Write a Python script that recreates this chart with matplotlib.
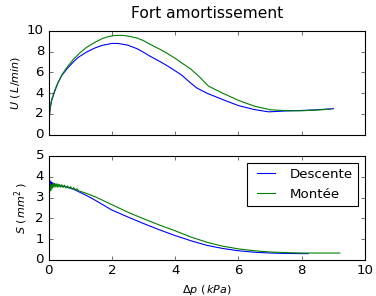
import matplotlib
matplotlib.use("Agg")
import matplotlib.pyplot as plt

plt.style.use('classic')
plt.rcParams['mathtext.fontset'] = 'dejavusans'
plt.rcParams['font.family'] = ['DejaVu Sans']

# Top panel: U (L/min) vs dp (kPa)
u_desc_x = [0, 0.02, 0.05, 0.1, 0.2, 0.3, 0.42, 0.6, 0.8, 0.94, 1.2, 1.47, 1.7, 2.0, 2.2, 2.5, 2.8, 3.0, 3.21,
            3.5, 3.73, 4.0, 4.2, 4.31, 4.5, 4.68, 5.0, 5.5, 6.0, 6.5, 6.95, 7.3, 7.58, 8.0, 8.5, 9.0]
u_desc_y = [0.3, 1.5, 2.5, 3.3, 4.2, 5.0, 5.7, 6.4, 7.05, 7.45, 7.95, 8.35, 8.6, 8.78, 8.78, 8.62, 8.27, 7.93, 7.55,
            7.07, 6.67, 6.15, 5.75, 5.45, 4.95, 4.5, 4.0, 3.38, 2.8, 2.42, 2.2, 2.25, 2.3, 2.33, 2.4, 2.5]
u_mont_x = [0, 0.02, 0.05, 0.1, 0.2, 0.3, 0.42, 0.6, 0.8, 1.0, 1.2, 1.47, 1.7, 1.9, 2.1, 2.31, 2.5, 2.8, 3.0, 3.21,
            3.5, 3.73, 4.0, 4.26, 4.5, 4.79, 5.05, 5.2, 5.5, 6.0, 6.5, 7.0, 7.58, 8.0, 8.5, 8.9]
u_mont_y = [0.3, 1.5, 2.5, 3.4, 4.3, 5.0, 5.75, 6.55, 7.3, 7.9, 8.4, 8.9, 9.25, 9.45, 9.55, 9.56, 9.5, 9.3, 9.05, 8.7,
            8.25, 7.86, 7.35, 6.8, 6.3, 5.5, 4.68, 4.45, 4.0, 3.3, 2.75, 2.4, 2.3, 2.3, 2.38, 2.45]

# Bottom panel: S (mm^2) vs dp (kPa)
s_desc_x = [0, 0.01, 0.02, 0.03, 0.04, 0.05, 0.07, 0.09, 0.1, 0.12, 0.15, 0.18, 0.2, 0.25, 0.3, 0.42, 0.6, 0.8,
            0.94, 1.2, 1.5, 2.0, 2.5, 3.0, 3.5, 4.0, 4.5, 5.0, 5.5, 6.0, 6.5, 7.0, 7.5, 8.2]
s_desc_y = [2.9, 3.9, 3.3, 3.85, 3.45, 3.8, 3.5, 3.75, 3.55, 3.72, 3.58, 3.68, 3.6, 3.62, 3.58, 3.55, 3.5, 3.4,
            3.29, 3.1, 2.85, 2.4, 2.07, 1.75, 1.45, 1.17, 0.92, 0.7, 0.55, 0.44, 0.37, 0.33, 0.31, 0.3]
s_mont_x = [0, 0.01, 0.02, 0.03, 0.04, 0.06, 0.08, 0.1, 0.13, 0.15, 0.18, 0.2, 0.23, 0.25, 0.28, 0.3, 0.33, 0.35,
            0.38, 0.42, 0.46, 0.5, 0.55, 0.6, 0.65, 0.7, 0.75, 0.8, 0.85, 0.9, 0.94, 1.0, 1.2, 1.5, 2.0, 2.5,
            3.0, 3.5, 4.0, 4.5, 5.0, 5.5, 6.0, 6.5, 7.0, 7.5, 8.0, 9.2]
s_mont_y = [1.3, 5.0, 3.0, 3.6, 3.3, 3.65, 3.35, 3.6, 3.45, 3.7, 3.5, 3.68, 3.52, 3.66, 3.5, 3.65, 3.52, 3.63,
            3.5, 3.62, 3.48, 3.6, 3.46, 3.56, 3.44, 3.52, 3.4, 3.48, 3.36, 3.42, 3.33, 3.3, 3.2, 3.02, 2.66, 2.3,
            1.98, 1.68, 1.4, 1.1, 0.85, 0.66, 0.53, 0.44, 0.38, 0.35, 0.33, 0.33]

fig = plt.figure(figsize=(4.7, 3.7), dpi=80)
ax1 = fig.add_axes([0.129, 0.545, 0.842, 0.351])
ax2 = fig.add_axes([0.129, 0.122, 0.842, 0.351])

ax1.plot(u_desc_x, u_desc_y, color='b', lw=1)
ax1.plot(u_mont_x, u_mont_y, color='g', lw=1)
ax1.set_xlim(0, 10)
ax1.set_ylim(0, 10)
ax1.set_xticklabels([])
ax1.set_ylabel(r'$U\ (\,L/min)$', fontsize=10)
ax1.set_title('Fort amortissement', fontsize=14, pad=11.5)

ax2.plot(s_desc_x, s_desc_y, color='b', lw=1, label='Descente')
ax2.plot(s_mont_x, s_mont_y, color='g', lw=1, label='Montée')
ax2.set_xlim(0, 10)
ax2.set_ylim(0, 5)
ax2.set_ylabel(r'$S\ (\,mm^2\,)$', fontsize=10)
ax2.set_xlabel(r'$\Delta p\ (\,kPa)$', fontsize=10)
ax2.legend(loc='upper right', fontsize=12)

fig.savefig('out.png', dpi=80, facecolor='white')
